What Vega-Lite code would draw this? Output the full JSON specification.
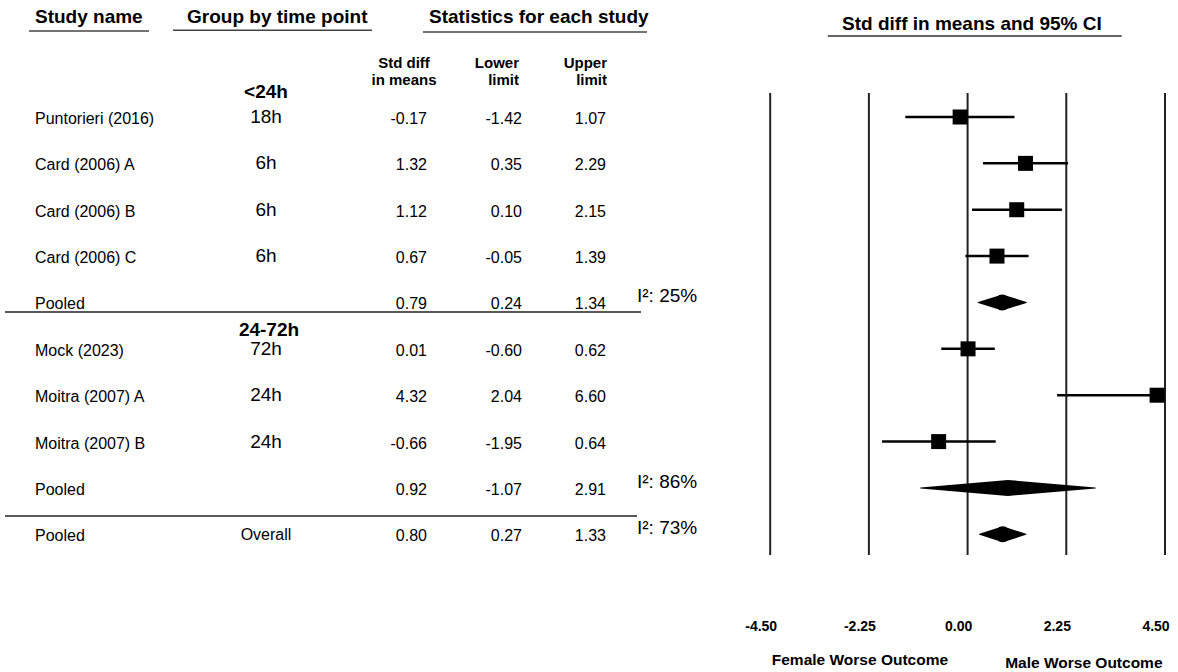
{
  "$schema": "https://vega.github.io/schema/vega-lite/v6.json",
  "padding": 0,
  "spacing": 0,
  "bounds": "flush",
  "background": "white",
  "config": {
    "view": {"stroke": null},
    "font": "Liberation Sans",
    "text": {"font": "Liberation Sans", "color": "black"},
    "locale": {"number": {"decimal": ".", "thousands": ",", "grouping": [3], "currency": ["$", ""], "minus": "-"}}
  },
  "datasets": {
    "studies": [
      {"row": 1, "study": "Puntorieri (2016)", "time": "18h", "smd": -0.17, "lo": -1.42, "hi": 1.07, "kind": "study"},
      {"row": 2, "study": "Card (2006) A", "time": "6h", "smd": 1.32, "lo": 0.35, "hi": 2.29, "kind": "study"},
      {"row": 3, "study": "Card (2006) B", "time": "6h", "smd": 1.12, "lo": 0.10, "hi": 2.15, "kind": "study"},
      {"row": 4, "study": "Card (2006) C", "time": "6h", "smd": 0.67, "lo": -0.05, "hi": 1.39, "kind": "study"},
      {"row": 5, "study": "Pooled", "time": "", "smd": 0.79, "lo": 0.24, "hi": 1.34, "kind": "pooled", "i2": "I²: 25%"},
      {"row": 6, "study": "Mock (2023)", "time": "72h", "smd": 0.01, "lo": -0.60, "hi": 0.62, "kind": "study"},
      {"row": 7, "study": "Moitra (2007) A", "time": "24h", "smd": 4.32, "lo": 2.04, "hi": 6.60, "kind": "study"},
      {"row": 8, "study": "Moitra (2007) B", "time": "24h", "smd": -0.66, "lo": -1.95, "hi": 0.64, "kind": "study"},
      {"row": 9, "study": "Pooled", "time": "", "smd": 0.92, "lo": -1.07, "hi": 2.91, "kind": "pooled", "i2": "I²: 86%"},
      {"row": 10, "study": "Pooled", "time": "Overall", "smd": 0.80, "lo": 0.27, "hi": 1.33, "kind": "overall", "i2": "I²: 73%"}
    ],
    "ticks": [{"v": -4.5}, {"v": -2.25}, {"v": 0}, {"v": 2.25}, {"v": 4.5}],
    "one": [{}]
  },
  "hconcat": [
    {
      "width": 720,
      "height": 672,
      "data": {"name": "studies"},
      "layer": [
        {"data": {"name": "one"}, "mark": {"type": "text", "text": "Study name", "fontSize": 19, "fontWeight": "bold", "align": "left", "baseline": "middle"},
         "encoding": {"x": {"datum": 35, "type": "quantitative", "scale": {"domain": [0, 720], "nice": false, "zero": false}, "axis": null},
                      "y": {"datum": -1.157, "type": "quantitative", "scale": {"domain": [-1.523, 12.969], "reverse": true, "nice": false, "zero": false}, "axis": null}}},
        {"data": {"name": "one"}, "mark": {"type": "text", "text": "Group by time point", "fontSize": 19, "fontWeight": "bold", "align": "left", "baseline": "middle"},
         "encoding": {"x": {"datum": 187, "type": "quantitative"}, "y": {"datum": -1.157, "type": "quantitative"}}},
        {"data": {"name": "one"}, "mark": {"type": "text", "text": "Statistics for each study", "fontSize": 19, "fontWeight": "bold", "align": "left", "baseline": "middle"},
         "encoding": {"x": {"datum": 429, "type": "quantitative"}, "y": {"datum": -1.157, "type": "quantitative"}}},
        {"data": {"name": "one"}, "mark": {"type": "rule", "color": "#444", "strokeWidth": 1.5},
         "encoding": {"x": {"datum": 29, "type": "quantitative"}, "x2": {"datum": 149}, "y": {"datum": -0.855, "type": "quantitative"}}},
        {"data": {"name": "one"}, "mark": {"type": "rule", "color": "#444", "strokeWidth": 1.5},
         "encoding": {"x": {"datum": 173, "type": "quantitative"}, "x2": {"datum": 372}, "y": {"datum": -0.87, "type": "quantitative"}}},
        {"data": {"name": "one"}, "mark": {"type": "rule", "color": "#444", "strokeWidth": 1.5},
         "encoding": {"x": {"datum": 423, "type": "quantitative"}, "x2": {"datum": 647}, "y": {"datum": -0.835, "type": "quantitative"}}},
        {"data": {"name": "one"}, "mark": {"type": "text", "text": "Std diff\nin means", "lineBreak": "\n", "lineHeight": 17, "fontSize": 15, "fontWeight": "bold", "align": "center", "baseline": "middle"},
         "encoding": {"x": {"datum": 404, "type": "quantitative"}, "y": {"datum": -0.165, "type": "quantitative"}}},
        {"data": {"name": "one"}, "mark": {"type": "text", "text": "Lower\nlimit", "lineBreak": "\n", "lineHeight": 17, "fontSize": 15, "fontWeight": "bold", "align": "right", "baseline": "middle"},
         "encoding": {"x": {"datum": 519, "type": "quantitative"}, "y": {"datum": -0.165, "type": "quantitative"}}},
        {"data": {"name": "one"}, "mark": {"type": "text", "text": "Upper\nlimit", "lineBreak": "\n", "lineHeight": 17, "fontSize": 15, "fontWeight": "bold", "align": "right", "baseline": "middle"},
         "encoding": {"x": {"datum": 607, "type": "quantitative"}, "y": {"datum": -0.165, "type": "quantitative"}}},
        {"data": {"name": "one"}, "mark": {"type": "text", "text": "<24h", "fontSize": 19, "fontWeight": "bold", "align": "center", "baseline": "middle"},
         "encoding": {"x": {"datum": 266, "type": "quantitative"}, "y": {"datum": 0.461, "type": "quantitative"}}},
        {"data": {"name": "one"}, "mark": {"type": "text", "text": "24-72h", "fontSize": 19, "fontWeight": "bold", "align": "center", "baseline": "middle"},
         "encoding": {"x": {"datum": 269, "type": "quantitative"}, "y": {"datum": 5.594, "type": "quantitative"}}},
        {"mark": {"type": "text", "fontSize": 16, "align": "left", "baseline": "middle", "dy": 2},
         "encoding": {"x": {"datum": 35, "type": "quantitative"}, "y": {"field": "row", "type": "quantitative"}, "text": {"field": "study"}}},
        {"transform": [{"filter": "datum.kind === 'study'"}],
         "mark": {"type": "text", "fontSize": 19, "align": "center", "baseline": "middle"},
         "encoding": {"x": {"datum": 266, "type": "quantitative"}, "y": {"field": "row", "type": "quantitative"}, "text": {"field": "time"}}},
        {"transform": [{"filter": "datum.kind === 'overall'"}],
         "mark": {"type": "text", "fontSize": 16, "align": "center", "baseline": "middle", "dy": 1},
         "encoding": {"x": {"datum": 266, "type": "quantitative"}, "y": {"field": "row", "type": "quantitative"}, "text": {"field": "time"}}},
        {"mark": {"type": "text", "fontSize": 16, "align": "right", "baseline": "middle", "dy": 2},
         "encoding": {"x": {"datum": 427, "type": "quantitative"}, "y": {"field": "row", "type": "quantitative"}, "text": {"field": "smd", "format": ".2f"}}},
        {"mark": {"type": "text", "fontSize": 16, "align": "right", "baseline": "middle", "dy": 2},
         "encoding": {"x": {"datum": 522, "type": "quantitative"}, "y": {"field": "row", "type": "quantitative"}, "text": {"field": "lo", "format": ".2f"}}},
        {"mark": {"type": "text", "fontSize": 16, "align": "right", "baseline": "middle", "dy": 2},
         "encoding": {"x": {"datum": 606, "type": "quantitative"}, "y": {"field": "row", "type": "quantitative"}, "text": {"field": "hi", "format": ".2f"}}},
        {"transform": [{"filter": "isValid(datum.i2)"}],
         "mark": {"type": "text", "fontSize": 19, "align": "left", "baseline": "middle", "dy": -6},
         "encoding": {"x": {"datum": 637, "type": "quantitative"}, "y": {"field": "row", "type": "quantitative"}, "text": {"field": "i2"}}},
        {"data": {"name": "one"}, "mark": {"type": "rule", "color": "#222", "strokeWidth": 1.5},
         "encoding": {"x": {"datum": 5, "type": "quantitative"}, "x2": {"datum": 641}, "y": {"datum": 5.205, "type": "quantitative"}}},
        {"data": {"name": "one"}, "mark": {"type": "rule", "color": "#222", "strokeWidth": 1.5},
         "encoding": {"x": {"datum": 5, "type": "quantitative"}, "x2": {"datum": 637}, "y": {"datum": 9.605, "type": "quantitative"}}}
      ]
    },
    {
      "width": 445,
      "height": 672,
      "data": {"name": "studies"},
      "layer": [
        {"data": {"name": "ticks"}, "mark": {"type": "rule", "color": "#222", "strokeWidth": 2},
         "encoding": {"x": {"field": "v", "type": "quantitative", "scale": {"domain": [-5.644, 4.5], "nice": false, "zero": false}, "axis": null},
                      "y": {"datum": 0.483, "type": "quantitative", "scale": {"domain": [-1.523, 12.969], "reverse": true, "nice": false, "zero": false}, "axis": null},
                      "y2": {"datum": 10.446}}},
        {"transform": [{"filter": "datum.kind === 'study'"}],
         "mark": {"type": "rule", "color": "black", "strokeWidth": 2.5, "clip": true},
         "encoding": {"x": {"field": "lo", "type": "quantitative"}, "x2": {"field": "hi"}, "y": {"field": "row", "type": "quantitative"}}},
        {"transform": [{"filter": "datum.kind === 'study'"}],
         "mark": {"type": "point", "shape": "square", "filled": true, "color": "black", "opacity": 1, "size": 225, "clip": true},
         "encoding": {"x": {"field": "smd", "type": "quantitative"}, "y": {"field": "row", "type": "quantitative"}}},
        {"transform": [{"filter": "datum.kind !== 'study'"}, {"fold": ["lo", "smd", "hi"], "as": ["key", "val"]}],
         "mark": {"type": "trail", "color": "black"},
         "encoding": {"x": {"field": "val", "type": "quantitative"}, "y": {"field": "row", "type": "quantitative"},
                      "detail": {"field": "row"}, "order": {"field": "val", "type": "quantitative"},
                      "size": {"condition": {"test": "datum.key === 'smd'", "value": 16}, "value": 0}}},
        {"data": {"name": "ticks"}, "mark": {"type": "text", "fontSize": 14, "fontWeight": "bold", "align": "center", "baseline": "middle", "dx": -9},
         "encoding": {"x": {"field": "v", "type": "quantitative"}, "y": {"datum": 12.0, "type": "quantitative"}, "text": {"field": "v", "format": ".2f"}}},
        {"data": {"name": "one"}, "mark": {"type": "text", "text": "Std diff in means and 95% CI", "fontSize": 19, "fontWeight": "bold", "align": "center", "baseline": "middle"},
         "encoding": {"x": {"datum": 0.098, "type": "quantitative"}, "y": {"datum": -1.006, "type": "quantitative"}}},
        {"data": {"name": "one"}, "mark": {"type": "rule", "color": "#333", "strokeWidth": 1.5},
         "encoding": {"x": {"datum": -3.187, "type": "quantitative"}, "x2": {"datum": 3.512}, "y": {"datum": -0.747, "type": "quantitative"}}},
        {"data": {"name": "one"}, "mark": {"type": "text", "text": "Female Worse Outcome", "fontSize": 15.5, "fontWeight": "bold", "align": "center", "baseline": "middle"},
         "encoding": {"x": {"datum": -2.454, "type": "quantitative"}, "y": {"datum": 12.71, "type": "quantitative"}}},
        {"data": {"name": "one"}, "mark": {"type": "text", "text": "Male Worse Outcome", "fontSize": 15.5, "fontWeight": "bold", "align": "center", "baseline": "middle"},
         "encoding": {"x": {"datum": 2.65, "type": "quantitative"}, "y": {"datum": 12.77, "type": "quantitative"}}}
      ]
    }
  ]
}
